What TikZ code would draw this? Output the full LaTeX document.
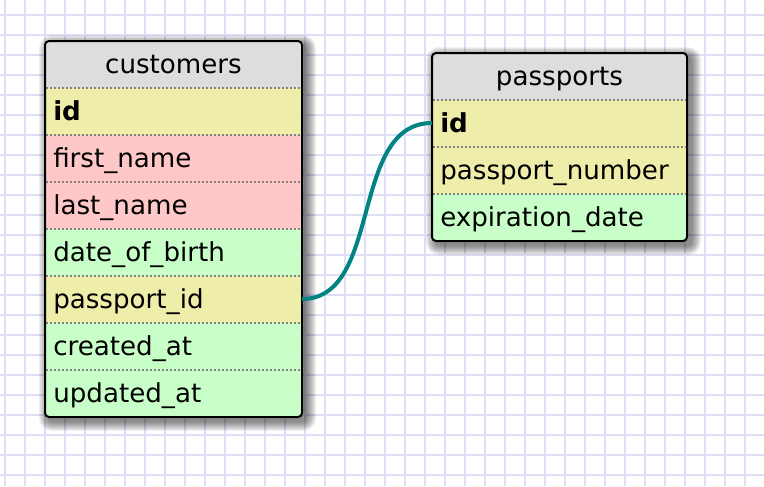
\documentclass[tikz,border=0pt]{standalone}
\usepackage{fontspec}
\setmainfont{DejaVu Sans}
\definecolor{gridc}{RGB}{222,222,244}
\definecolor{headc}{RGB}{221,221,221}
\definecolor{keyc}{RGB}{238,238,170}
\definecolor{redc}{RGB}{255,200,200}
\definecolor{greenc}{RGB}{200,255,200}
\definecolor{sepc}{RGB}{130,130,130}
\definecolor{relc}{RGB}{0,131,131}
\begin{document}
\begin{tikzpicture}[x=0.75pt,y=-0.75pt,
  gridline/.style={draw=gridc,line width=1.5pt},
  shadowlayer/.style={fill=black,fill opacity=0.055},
  tborder/.style={draw=black,line width=1.5pt,rounded corners=3pt},
  sepline/.style={draw=sepc,line width=1.3pt,dash pattern=on 1.5pt off 1.5pt},
  fieldtext/.style={anchor=base west,inner sep=0pt,font=\fontsize{19.6}{22}\selectfont},
  keytext/.style={fieldtext,font=\fontsize{19.6}{22}\selectfont\bfseries},
  headtext/.style={anchor=base,inner sep=0pt,font=\fontsize{19.6}{22}\selectfont},
  relline/.style={draw=relc,line width=3pt}]
\useasboundingbox (0,0) rectangle (764,486);
\fill[white] (0,0) rectangle (764,486);
\foreach \x in {5,25,...,765} \draw[gridline] (\x,0) -- (\x,486);
\foreach \y in {15,35,...,475} \draw[gridline] (0,\y) -- (764,\y);

% shadows
\foreach \e in {1,...,10} {
  \fill[shadowlayer,rounded corners={(\e+3)*0.75pt}] ({45+4-\e},{41+4-\e}) rectangle ({302+4+\e},{417+4+\e});
  \fill[shadowlayer,rounded corners={(\e+3)*0.75pt}] ({432+4-\e},{53+4-\e}) rectangle ({687+4+\e},{241+4+\e});
}

% customers table
\begin{scope}
\clip[rounded corners=3pt] (45,41) rectangle (302,417);
\fill[headc] (45,41) rectangle (302,88);
\fill[keyc] (45,88) rectangle (302,135);
\fill[redc] (45,135) rectangle (302,229);
\fill[greenc] (45,229) rectangle (302,276);
\fill[keyc] (45,276) rectangle (302,323);
\fill[greenc] (45,323) rectangle (302,417);
\end{scope}
\foreach \y in {88,135,182,229,276,323,370} \draw[sepline] (46,\y) -- (301,\y);
\path[tborder] (45,41) rectangle (302,417);
\node[headtext] (ctitle) at (173.5,73) {customers};
\node[keytext] (cid) at (53,120.5) {id};
\node[fieldtext] (cfirst) at (53,167.5) {first\_name};
\node[fieldtext] (clast) at (53,214.5) {last\_name};
\node[fieldtext] (cdob) at (53,261.5) {date\_of\_birth};
\node[fieldtext] (cpass) at (53,308.5) {passport\_id};
\node[fieldtext] (ccreated) at (53,355.5) {created\_at};
\node[fieldtext] (cupdated) at (53,402.5) {updated\_at};

% passports table
\begin{scope}
\clip[rounded corners=3pt] (432,53) rectangle (687,241);
\fill[headc] (432,53) rectangle (687,100);
\fill[keyc] (432,100) rectangle (687,194);
\fill[greenc] (432,194) rectangle (687,241);
\end{scope}
\foreach \y in {100,147,194} \draw[sepline] (433,\y) -- (686,\y);
\path[tborder] (432,53) rectangle (687,241);
\node[headtext] (ptitle) at (559.5,85.5) {passports};
\node[keytext] (pid) at (440,132.5) {id};
\node[fieldtext] (pnum) at (440,179.5) {passport\_number};
\node[fieldtext] (pexp) at (440,226.5) {expiration\_date};

% relation
\coordinate (relstart) at (302,299);
\coordinate (relend) at (432,123);
\draw[relline] (relstart) .. controls +(81,0) and +(-83,0) .. (relend);
\end{tikzpicture}
\end{document}
